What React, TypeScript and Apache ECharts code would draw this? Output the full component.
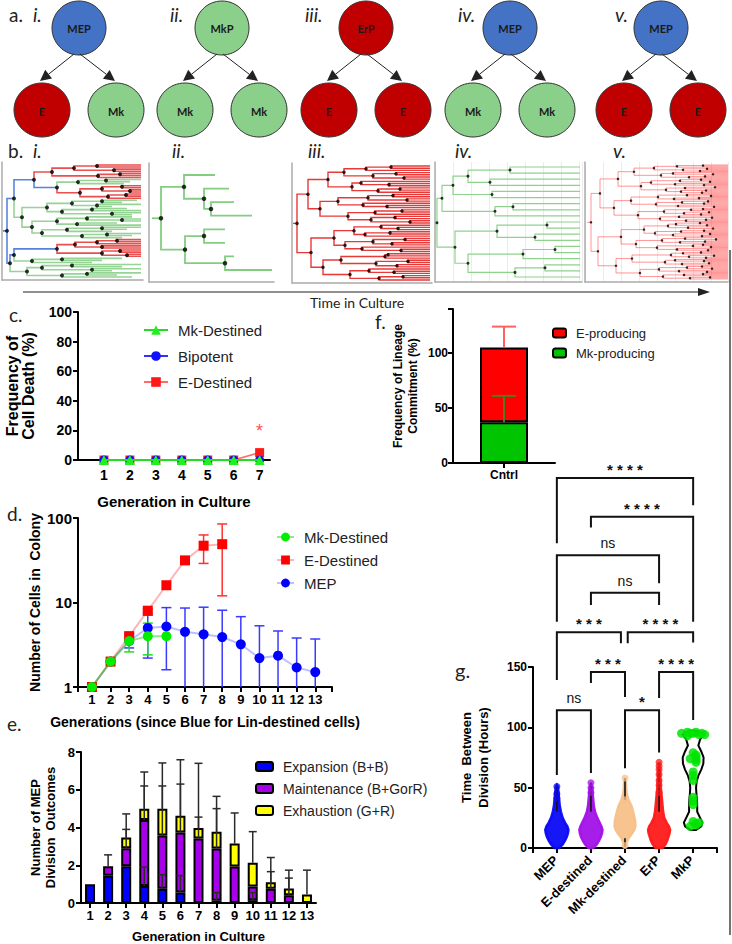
import React, { useEffect, useRef } from 'react';
import * as echarts from 'echarts';

// ---------------- a. division diagrams ----------------
const aNumerals = ['i.', 'ii.', 'iii.', 'iv.', 'v.'];
const aParents = ['MEP', 'MkP', 'ErP', 'MEP', 'MEP'];
const aChildren = [['E', 'Mk'], ['Mk', 'Mk'], ['E', 'E'], ['Mk', 'Mk'], ['E', 'E']];

// ---------------- b. lineage trees ----------------
// node = [divisionTime, childA, childB, colour?]; leaf = endTime or [endTime, colour]
const treeI: any = [5,
  [12,
    [32,
      [50, [72, [95, 139, 139], [112, 139, 139]], [96, [118, 139, 139], 139], 'r'],
      [55, [76, [104, 139, 128], 122, 'g'], [78, [100, [120, 139, 139], [128, 139, 139]], [106, [124, 139, 139], 139], 'r'], 'b']],
    [20,
      [45, [70, [100, 135, 120], [95, 139, 110]], [60, [90, 125, 139], [110, 139, 130]]],
      [30, [55, [85, 130, [120, 139, 139]], [75, 115, 139]], [40, [65, [100, 139, 125], 110], [80, [105, 139, 130], 120]]],
      'g']],
  [8,
    [12,
      [55, [73, [95, [115, 139, 139], 139], [100, 139, 139], 'r'], [100, [118, 139, 139], [125, 139, 139], 'r']],
      [30, [60, 120, 100], 90, 'g']],
    [25, [40, [70, 139, 120], [90, 139, 110]], [60, [85, 139, 115], 130], 'g']],
  'b'];
const treeII: any = [12,
  [35, 66, [55, 80, [62, 85, 103]]],
  [36, [55, 76, 76], [76, 85, 123]]];
const treeIIILevels: (number | null)[][] = [
  [5],
  [16, 19],
  [36, 28, 42, 31],
  [52, 60, 46, 56, 62, 53, 49, 58],
  [74, 81, 69, 86, 76, 71, 83, 79, 89, 73, 81, 70, 93, 84, 77, 87],
  [99, null, 104, 112, null, 97, 108, null, 101, 115, null, 95, 110, null, 103, 118, null, 106, 98, null, 113, 100, null, 109, 96, null, 116, 105, null, 102, 111, null],
];
const treeIV: any = [2,
  [7,
    [18, [33, [75, 145, 145], [55, 145, 145]], [57, 145, 145]],
    [60, [78, 145, 145], 145]],
  [20,
    [62, [112, 145, 145], [100, 145, 145]],
    [33, [88, [120, 145, 145], 145], [80, [110, 145, 145], 145]]]];
const treeVLevels: (number | null)[][] = [
  [6],
  [15, 13],
  [33, 29, 36, 31],
  [49, 56, 46, 53, 59, 51, 47, 55],
  [69, 76, 66, 81, 73, 71, 79, 75, 83, 70, 77, 72, 86, 80, 74, 78],
  [92, 98, 88, 104, 95, 90, 100, 96, 102, 89, 97, 93, 106, 99, 94, 101, 91, 103, 96, 88, 100, 95, 108, 92, 98, 104, 90, 97, 102, 94, 99, 105],
  [118, null, 122, 115, null, 128, 120, null, 116, 125, null, 119, 130, null, 121, 117, null, 126, 114, null, 123, 119, null, 129, 118, null, 124, 116, null, 127, 121, null,
    115, 122, null, 128, 119, null, 125, 117, null, 131, 120, null, 118, 126, null, 123, 116, null, 129, 121, null, 119, 124, null, 117, 127, null, 122, 118, null, 125],
];

// ---------------- c. cell death ----------------
const cGenerations = [1, 2, 3, 4, 5, 6, 7];
const cMkDestined = [0, 0, 0, 0, 0, 0, 0];
const cBipotent = [0, 0, 0, 0, 0, 0, 0];
const cEDestined = [0, 0, 0, 0, 0, 0, 5];
const cStarPosition = [7, 22];

// ---------------- f. lineage commitment ----------------
const fCategories = ['Cntrl'];
const fMkProducing = [37];
const fEProducing = [68];
const fMkErrTop = [61];
const fEErrTop = [124];

// ---------------- d. cells in colony ----------------
const dGenerations = [1, 2, 3, 4, 5, 6, 7, 8, 9, 10, 11, 12, 13];
const dMk = [1, 2, 3.5, 4, 4];
const dMkLow = [null, null, 2.6, 2.4, null];
const dMkHigh = [null, null, 3.9, 5.7, null];
const dE = [1, 2, 4, 8, 16, 31.5, 47, 49];
const dELow = [null, null, 3.7, 7.6, null, null, 29, 12];
const dEHigh = [null, null, 4.3, 8.4, null, null, 63, 85];
const dMEP = [1, 2, 3.5, 5, 5.2, 4.5, 4.2, 3.9, 3.2, 2.2, 2.35, 1.7, 1.5];
const dMEPLow = [null, null, 2.9, 2.2, 1.6, 0.5, 0.5, 0.5, 0.5, 0.5, 0.5, 0.5, 0.5];
const dMEPHigh = [null, null, 4.2, 7.1, 8.7, 8.6, 8.8, 8.1, 6.8, 5.3, 4.6, 3.8, 3.7];

// ---------------- e. MEP division outcomes ----------------
const eGenerations = ['1', '2', '3', '4', '5', '6', '7', '8', '9', '10', '11', '12', '13'];
const eExpansion = [1.0, 1.45, 1.95, 0.9, 0.75, 0.55, 0, 0.12, 0, 0.15, 0, 0, 0];
const eMaintenance = [0, 0.5, 0.95, 3.5, 2.82, 3.19, 3.42, 2.77, 1.93, 0.73, 0.75, 0.41, 0];
const eExhaustion = [0, 0, 0.57, 0.6, 1.43, 0.88, 0.55, 0.88, 1.22, 1.25, 0.35, 0.36, 0.45];
const eExpansionErr = [null, null, null, 1.9, 1.5, 1.45, null, 0.55, null, 0.55, null, null, null];
const eMaintenanceErr = [null, 2.55, 3.9, 6.2, 6.2, 6.3, 4.55, 5.0, null, null, 1.66, 1.32, null];
const eExhaustionErr = [null, null, 4.72, 6.94, 7.42, 7.59, 7.4, 5.65, 4.77, 3.78, 2.41, 1.74, 1.74];

// ---------------- g. time between divisions ----------------
const gGroups = ['MEP', 'E-destined', 'Mk-destined', 'ErP', 'MkP'];
const gLevels = [
  [0, 3, 6, 9, 12, 15, 18, 21, 25, 30, 35, 40, 45, 50, 52],
  [0, 3, 6, 9, 12, 15, 18, 21, 25, 30, 35, 40, 45, 50, 54],
  [1, 4, 8, 12, 15, 18, 22, 26, 30, 35, 40, 45, 50, 55, 58],
  [0, 3, 6, 9, 12, 15, 18, 21, 25, 30, 35, 40, 45, 50, 55, 60, 65, 71],
  [15, 18, 21, 25, 30, 35, 40, 45, 50, 55, 60, 65, 70, 75, 80, 85, 90, 94, 97],
];
const gDensity = [
  [0.2, 0.5, 0.7, 0.85, 0.95, 1, 0.9, 0.7, 0.5, 0.35, 0.25, 0.2, 0.15, 0.1, 0],
  [0.2, 0.5, 0.7, 0.85, 0.95, 1, 0.9, 0.75, 0.55, 0.35, 0.25, 0.2, 0.15, 0.1, 0],
  [0.05, 0.1, 0.3, 0.6, 0.8, 0.9, 0.88, 0.8, 0.7, 0.55, 0.3, 0.15, 0.1, 0.08, 0],
  [0.3, 0.55, 0.7, 0.8, 0.9, 0.95, 0.85, 0.65, 0.45, 0.35, 0.3, 0.25, 0.2, 0.15, 0.12, 0.1, 0.08, 0],
  [0.25, 0.7, 0.8, 0.6, 0.35, 0.35, 0.33, 0.28, 0.25, 0.3, 0.45, 0.7, 0.88, 0.9, 0.7, 0.45, 0.6, 0.9, 0.4],
];
const gTailPoints = [[51, 45, 41], [54, 50, 46], [58, 2, 40], [71, 68, 65, 61, 56, 52, 46], []];
const gMkPTimes = [95, 96, 95, 94, 96, 95, 93, 94, 95, 79, 77, 75, 73, 71, 74, 63, 60, 56, 42, 39, 36, 22, 20, 19, 18, 21];
const gBracketPairs = [[1, 5], [2, 5], [1, 4], [2, 4], [1, 3], [3, 5], [2, 3], [4, 5], [1, 2], [3, 4]];
const gBracketY = [306, 274, 242, 211, 178.5, 178.5, 145.5, 145.5, 114, 114];
const gBracketLegs = [[252, 283.5], [265, 187], [187, 219], [201, 201], [139, 169.4], [169.4, 170], [136.4, 124.8], [124, 105.8], [60.3, 62], [66, 79]];
const gBracketLabels = ['****', '****', 'ns', 'ns', '***', '****', '***', '****', 'ns', '*'];

// ---------------- styles ----------------
const AX = "'Liberation Sans', Arial, Helvetica, sans-serif";
const LB = "Lato, 'Open Sans', sans-serif";
const cellColors: Record<string, string> = { MEP: '#4472C4', MkP: '#8AD08A', ErP: '#C00000', E: '#C00000', Mk: '#8AD08A' };
const treeColors: Record<string, string> = { b: '#3A6ED5', r: '#E53030', g: '#82CD82', p: 'rgba(255,45,45,0.5)', R: '#E52222', G: '#8ED28E' };
const gColors = ['#0A0AF5', '#A312E8', '#F7C089', '#FF1A1A', '#00E400'];

function fromLevels(levels: (number | null)[][], end: number): any {
  const build = (k: number, i: number): any => {
    const t = levels[k] ? levels[k][i] : null;
    return t == null ? end : [t, build(k + 1, 2 * i), build(k + 1, 2 * i + 1)];
  };
  return build(0, 0);
}

function layoutTree(root: any, start: number, baseColor: string) {
  const segs: any[] = [];
  const dots: number[][] = [];
  let leaf = 0;
  const isLeaf = (n: any) => typeof n === 'number' || n.length === 2;
  const tOf = (n: any) => (typeof n === 'number' ? n : n[0]);
  const colorOf = (n: any, inh: string) => (typeof n === 'number' ? inh : n.length === 2 ? n[1] : n[3] || inh);
  const walk = (n: any, color: string): number => {
    if (isLeaf(n)) return leaf++;
    const ca = colorOf(n[1], color);
    const cb = colorOf(n[2], color);
    const ya = walk(n[1], ca);
    const yb = walk(n[2], cb);
    const y = (ya + yb) / 2;
    segs.push({ coords: [[n[0], y], [n[0], ya], [tOf(n[1]), ya]], color: ca });
    segs.push({ coords: [[n[0], y], [n[0], yb], [tOf(n[2]), yb]], color: cb });
    dots.push([n[0], y]);
    return y;
  };
  const rc = colorOf(root, baseColor);
  const yr = walk(root, rc);
  segs.push({ coords: [[start, yr], [tOf(root), yr]], color: rc });
  return { segs, dots, n: leaf };
}

function txt(text: string, x: number, y: number, font: string, fill = '#222', align = 'left', valign = 'middle') {
  return { type: 'text', silent: true, style: { text, x, y, font, fill, textAlign: align, align, textVerticalAlign: valign, verticalAlign: valign } };
}

function arrow(sx: number, sy: number, tx: number, ty: number, len: number, half: number, color: string, lw: number) {
  const dx = tx - sx, dy = ty - sy;
  const d = Math.sqrt(dx * dx + dy * dy);
  const ux = dx / d, uy = dy / d;
  const bx = tx - ux * len, by = ty - uy * len;
  return [
    { type: 'line', silent: true, shape: { x1: sx, y1: sy, x2: bx, y2: by }, style: { stroke: color, lineWidth: lw } },
    { type: 'polygon', silent: true, shape: { points: [[tx, ty], [bx - uy * half, by + ux * half], [bx + uy * half, by - ux * half]] }, style: { fill: color } },
  ];
}

function errRender(color: string, lw: number, cap: number, bottomCap: boolean) {
  return (params: any, api: any) => {
    const x = api.value(0);
    const pLo = api.coord([x, api.value(1)]);
    const pHi = api.coord([x, api.value(2)]);
    const st = { stroke: color, lineWidth: lw };
    const children: any[] = [
      { type: 'line', shape: { x1: pLo[0], y1: pLo[1], x2: pHi[0], y2: pHi[1] }, style: st },
      { type: 'line', shape: { x1: pHi[0] - cap, y1: pHi[1], x2: pHi[0] + cap, y2: pHi[1] }, style: st },
    ];
    if (bottomCap) children.push({ type: 'line', shape: { x1: pLo[0] - cap, y1: pLo[1], x2: pLo[0] + cap, y2: pLo[1] }, style: st });
    return { type: 'group', children };
  };
}

const blackLine = { show: true, onZero: false, lineStyle: { color: '#000', width: 2 } };
const tickOut = { show: true, length: 5, lineStyle: { color: '#000', width: 2 } };
const boldLabel = (size: number) => ({ fontFamily: AX, fontWeight: 'bold', fontSize: size, color: '#000' });

function buildOption() {
  const grid: any[] = [];
  const xAxis: any[] = [];
  const yAxis: any[] = [];
  const series: any[] = [];
  const graphic: any[] = [];

  // ---------- a ----------
  const aCenters = [79, 222, 366, 510, 661];
  const aNumX = [33, 170, 305, 458, 615];
  graphic.push(txt('a.', 9, 14, `19px ${LB}`));
  aParents.forEach((p, k) => {
    const cx = aCenters[k];
    graphic.push(txt(aNumerals[k], aNumX[k], 14, `italic 19px ${LB}`));
    graphic.push({ type: 'ellipse', silent: true, shape: { cx, cy: 28, rx: 27, ry: 27 }, style: { fill: cellColors[p], stroke: '#333', lineWidth: 1 } });
    graphic.push(txt(p, cx, 28, `bold 11px ${LB}`, '#1a1a1a', 'center'));
    aChildren[k].forEach((c, j) => {
      const ccx = cx + (j ? 37 : -37);
      graphic.push({ type: 'ellipse', silent: true, shape: { cx: ccx, cy: 110, rx: 28, ry: 27 }, style: { fill: cellColors[c], stroke: '#333', lineWidth: 1 } });
      graphic.push(txt(c, ccx, 111, `bold 11px ${LB}`, '#1a1a1a', 'center'));
      graphic.push(...arrow(cx + (j ? 1 : -5), 54, ccx + (j ? -1 : -2), 81, 11, 5.5, '#222', 1));
    });
  });

  // ---------- b ----------
  graphic.push(txt('b.', 8, 150, `19px ${LB}`));
  const bNumX = [33, 172, 308, 455, 613];
  aNumerals.forEach((n, k) => graphic.push(txt(n, bNumX[k], 150, `italic 19px ${LB}`)));
  const treePanels = [
    { tree: treeI, left: 2, top: 162, width: 141, height: 118, start: 1, base: 'b', line: 1.6, op: 0.85, dot: 4, padPx: 3, vgrid: false },
    { tree: treeII, left: 149, top: 163, width: 125, height: 119, start: 3, base: 'g', line: 1.8, op: 1, dot: 4.5, padPx: 12, vgrid: false },
    { tree: fromLevels(treeIIILevels, 138), left: 292, top: 163, width: 140, height: 120, start: 1, base: 'R', line: 1.4, op: 0.9, dot: 3.5, padPx: 3, vgrid: false },
    { tree: treeIV, left: 435, top: 162, width: 147, height: 120, start: 0, base: 'G', line: 1.2, op: 1, dot: 3, padPx: 5, vgrid: true },
    { tree: fromLevels(treeVLevels, 143), left: 585, top: 162, width: 143, height: 120, start: 2, base: 'p', line: 1, op: 1, dot: 2.5, padPx: 3, vgrid: true },
  ];
  treePanels.forEach((p, k) => {
    const L = layoutTree(p.tree, p.start, p.base);
    const u = (L.n - 1) / (p.height - 2 * p.padPx);
    grid.push({ left: p.left, top: p.top, width: p.width, height: p.height });
    xAxis.push({
      gridIndex: k, type: 'value', min: 0, max: p.width, interval: p.vgrid ? 18 : undefined,
      axisLine: { show: true, onZero: false, lineStyle: { color: '#ababab', width: 1.5 } },
      axisTick: { show: false }, axisLabel: { show: false },
      splitLine: { show: p.vgrid, lineStyle: { color: '#ebebeb', width: 1 } },
    });
    yAxis.push({
      gridIndex: k, type: 'value', inverse: true, min: -p.padPx * u, max: L.n - 1 + p.padPx * u,
      axisLine: { show: true, onZero: false, lineStyle: { color: '#ababab', width: 1.5 } },
      axisTick: { show: false }, axisLabel: { show: false }, splitLine: { show: false },
    });
    series.push({
      type: 'lines', coordinateSystem: 'cartesian2d', xAxisIndex: k, yAxisIndex: k, polyline: true, silent: true, z: 2,
      lineStyle: { width: p.line, opacity: p.op },
      data: L.segs.map((s: any) => ({ coords: s.coords, lineStyle: { color: treeColors[s.color] } })),
    });
    series.push({
      type: 'scatter', xAxisIndex: k, yAxisIndex: k, silent: true, z: 3, symbolSize: p.dot,
      itemStyle: { color: '#000' }, data: L.dots,
    });
  });
  // time arrow
  graphic.push(...arrow(23, 292, 710, 292, 12, 4, '#222', 1.2));
  graphic.push(txt('Time in Culture', 357, 302, `14px ${LB}`, '#222', 'center'));
  graphic.push({ type: 'line', silent: true, shape: { x1: 730, y1: 250, x2: 730, y2: 935 }, style: { stroke: '#444', lineWidth: 1.5 } });

  // ---------- panel letters ----------
  graphic.push(txt('c.', 9, 314, `19px ${LB}`));
  graphic.push(txt('f.', 375, 321, `19px ${LB}`));
  graphic.push(txt('d.', 7, 513, `19px ${LB}`));
  graphic.push(txt('e.', 7, 723, `19px ${LB}`));
  graphic.push(txt('g.', 455, 670, `20px ${LB}`));

  // ---------- c (grid 5) ----------
  grid.push({ left: 78, top: 312, width: 192, height: 148 });
  xAxis.push({
    gridIndex: 5, type: 'value', min: 0, max: 7.4, interval: 1,
    axisLine: blackLine, axisTick: { show: false }, splitLine: { show: false },
    axisLabel: { ...boldLabel(14), margin: 8, formatter: (v: number) => (v >= 1 && v <= 7 && Number.isInteger(v) ? String(v) : '') },
    name: 'Generation in Culture', nameLocation: 'middle', nameGap: 34, nameTextStyle: boldLabel(15),
  });
  yAxis.push({
    gridIndex: 5, type: 'value', min: 0, max: 100, interval: 20,
    axisLine: blackLine, axisTick: tickOut, splitLine: { show: false },
    axisLabel: { ...boldLabel(14), margin: 6 },
    name: 'Frequency of\nCell Death (%)', nameLocation: 'middle', nameRotate: 90, nameGap: 42,
    nameTextStyle: { ...boldLabel(16), lineHeight: 16 },
  });
  series.push(
    { name: 'E-Destined', type: 'line', xAxisIndex: 5, yAxisIndex: 5, z: 3, symbol: 'rect', symbolSize: 9,
      data: cGenerations.map((g, i) => [g, cEDestined[i]]), itemStyle: { color: '#FF1A1A' }, lineStyle: { color: '#FF6A6A', width: 1.5 } },
    { name: 'Bipotent', type: 'line', xAxisIndex: 5, yAxisIndex: 5, z: 4, symbol: 'circle', symbolSize: 9,
      data: cGenerations.map((g, i) => [g, cBipotent[i]]), itemStyle: { color: '#1010FF' }, lineStyle: { color: '#3030FF', width: 1.5 } },
    { name: 'Mk-Destined', type: 'line', xAxisIndex: 5, yAxisIndex: 5, z: 5, symbol: 'triangle', symbolSize: 10,
      data: cGenerations.map((g, i) => [g, cMkDestined[i]]), itemStyle: { color: '#22EE22' }, lineStyle: { color: '#22DD22', width: 2 } },
    { type: 'scatter', xAxisIndex: 5, yAxisIndex: 5, z: 6, symbolSize: 2, silent: true, itemStyle: { color: 'rgba(255,255,255,0)' },
      data: [cStarPosition], label: { show: true, position: 'inside', formatter: '*', color: '#FF2020', fontSize: 18, fontFamily: AX, offset: [0, 4] } },
  );

  // ---------- f (grid 6) ----------
  grid.push({ left: 453, top: 309, width: 102, height: 154 });
  xAxis.push({
    gridIndex: 6, type: 'category', data: fCategories,
    axisLine: blackLine, axisTick: { ...tickOut, alignWithLabel: true }, axisLabel: { ...boldLabel(12), margin: 6 },
  });
  yAxis.push({
    gridIndex: 6, type: 'value', min: 0, max: 140, interval: 50,
    axisLine: blackLine, axisTick: tickOut, splitLine: { show: false },
    axisLabel: { ...boldLabel(12), margin: 5, formatter: (v: number) => (v % 50 === 0 ? String(v) : '') },
    name: 'Frequency of Lineage\nCommitment (%)', nameLocation: 'middle', nameRotate: 90, nameGap: 33,
    nameTextStyle: { ...boldLabel(12), lineHeight: 15 },
  });
  series.push(
    { name: 'Mk-producing', type: 'bar', stack: 'f', xAxisIndex: 6, yAxisIndex: 6, barWidth: 48, data: fMkProducing,
      itemStyle: { color: '#00C400', borderColor: '#000', borderWidth: 2 } },
    { name: 'E-producing', type: 'bar', stack: 'f', xAxisIndex: 6, yAxisIndex: 6, barWidth: 48, data: fEProducing,
      itemStyle: { color: '#FF0000', borderColor: '#000', borderWidth: 2 } },
    { type: 'custom', xAxisIndex: 6, yAxisIndex: 6, z: 5, silent: true, renderItem: errRender('#FF6060', 2, 12, false),
      data: [[0, fMkProducing[0] + fEProducing[0], fEErrTop[0]]] },
    { type: 'custom', xAxisIndex: 6, yAxisIndex: 6, z: 5, silent: true, renderItem: errRender('#4F7A22', 2, 12, false),
      data: [[0, fMkProducing[0], fMkErrTop[0]]] },
  );

  // ---------- d (grid 7) ----------
  grid.push({ left: 78, top: 518, width: 254, height: 169 });
  xAxis.push({
    gridIndex: 7, type: 'value', min: 0.25, max: 13.9, minInterval: 1, maxInterval: 1, splitNumber: 13,
    axisLine: blackLine, axisTick: tickOut, splitLine: { show: false },
    axisLabel: { ...boldLabel(13), margin: 6, formatter: (v: number) => (Number.isInteger(v) && v >= 1 ? String(v) : '') },
    name: 'Generations (since Blue for Lin-destined cells)', nameLocation: 'middle', nameGap: 28, nameTextStyle: boldLabel(14),
  });
  yAxis.push({
    gridIndex: 7, type: 'log', logBase: 10, min: 1, max: 100,
    axisLine: blackLine, axisTick: tickOut, splitLine: { show: false }, minorTick: { show: false },
    axisLabel: { ...boldLabel(15), margin: 6 },
    name: 'Number of Cells in  Colony', nameLocation: 'middle', nameRotate: 90, nameGap: 36, nameTextStyle: boldLabel(14),
  });
  const errData = (lo: any[], hi: any[]) => lo.map((l, i) => (l == null ? null : [dGenerations[i], l, hi[i]])).filter((d) => d);
  series.push(
    { type: 'custom', xAxisIndex: 7, yAxisIndex: 7, z: 2, clip: true, silent: true, renderItem: errRender('#3A3AFF', 1.5, 5, true), data: errData(dMEPLow, dMEPHigh) },
    { type: 'custom', xAxisIndex: 7, yAxisIndex: 7, z: 2, clip: true, silent: true, renderItem: errRender('#FF3030', 1.5, 5, true), data: errData(dELow, dEHigh) },
    { type: 'custom', xAxisIndex: 7, yAxisIndex: 7, z: 2, clip: true, silent: true, renderItem: errRender('#22DD22', 1.5, 5, true), data: errData(dMkLow, dMkHigh) },
    { name: 'MEP', type: 'line', xAxisIndex: 7, yAxisIndex: 7, z: 3, symbol: 'circle', symbolSize: 10,
      data: dMEP.map((v, i) => [dGenerations[i], v]), itemStyle: { color: '#0000FF' }, lineStyle: { color: 'rgba(70,70,255,0.35)', width: 2 } },
    { name: 'E-Destined ', type: 'line', xAxisIndex: 7, yAxisIndex: 7, z: 4, symbol: 'rect', symbolSize: 10,
      data: dE.map((v, i) => [dGenerations[i], v]), itemStyle: { color: '#FF0000' }, lineStyle: { color: 'rgba(255,90,90,0.45)', width: 2 } },
    { name: 'Mk-Destined ', type: 'line', xAxisIndex: 7, yAxisIndex: 7, z: 5, symbol: 'circle', symbolSize: 10,
      data: dMk.map((v, i) => [dGenerations[i], v]), itemStyle: { color: '#00EE00' }, lineStyle: { color: 'rgba(0,210,0,0.45)', width: 2 } },
  );

  // ---------- e (grid 8) ----------
  grid.push({ left: 81, top: 752, width: 235, height: 156 });
  xAxis.push({
    gridIndex: 8, type: 'category', data: eGenerations,
    axisLine: blackLine, axisTick: { ...tickOut, alignWithLabel: true, interval: 0 }, axisLabel: { ...boldLabel(13), margin: 6, interval: 0 },
    name: 'Generation in Culture', nameLocation: 'middle', nameGap: 27, nameTextStyle: boldLabel(13),
  });
  yAxis.push({
    gridIndex: 8, type: 'value', min: 0, max: 8, interval: 2,
    axisLine: blackLine, axisTick: tickOut, splitLine: { show: false }, axisLabel: { ...boldLabel(13), margin: 6 },
    name: 'Number of MEP\nDivision  Outcomes', nameLocation: 'middle', nameRotate: 90, nameGap: 23,
    nameTextStyle: { ...boldLabel(13), lineHeight: 15 },
  });
  const eSeries = [
    { name: 'Expansion (B+B)', values: eExpansion, color: '#0000FF' },
    { name: 'Maintenance (B+GorR)', values: eMaintenance, color: '#A600E8' },
    { name: 'Exhaustion (G+R)', values: eExhaustion, color: '#FFFF00' },
  ];
  eSeries.forEach((s) => series.push({
    name: s.name, type: 'bar', stack: 'e', xAxisIndex: 8, yAxisIndex: 8, barWidth: 10,
    data: s.values.map((v) => (v ? v : null)), itemStyle: { color: s.color, borderColor: '#000', borderWidth: 2 },
  }));
  const eErr: any[] = [];
  eGenerations.forEach((_, i) => {
    const t1 = eExpansion[i];
    const t2 = t1 + eMaintenance[i];
    const t3 = t2 + eExhaustion[i];
    if (eExpansionErr[i] != null) eErr.push([i, t1, eExpansionErr[i]]);
    if (eMaintenanceErr[i] != null) eErr.push([i, t2, eMaintenanceErr[i]]);
    if (eExhaustionErr[i] != null) eErr.push([i, t3, eExhaustionErr[i]]);
  });
  series.push({ type: 'custom', xAxisIndex: 8, yAxisIndex: 8, z: 5, silent: true, renderItem: errRender('#2a2a2a', 1.5, 4, false), data: eErr });

  // ---------- g violin (grid 9), brackets (grid 10), group labels (grid 11) ----------
  grid.push({ left: 533, top: 667, width: 184, height: 181 });
  grid.push({ left: 533, top: 461, width: 184, height: 387 });
  grid.push({ left: 539, top: 667, width: 170, height: 181 });
  xAxis.push({
    gridIndex: 9, type: 'value', min: 0.3, max: 5.7, minInterval: 1, maxInterval: 1, splitNumber: 5,
    axisLine: blackLine, axisTick: tickOut, splitLine: { show: false }, axisLabel: { show: false },
  });
  yAxis.push({
    gridIndex: 9, type: 'value', min: 0, max: 150, interval: 50,
    axisLine: blackLine, axisTick: tickOut, splitLine: { show: false }, axisLabel: { ...boldLabel(12), margin: 6 },
    name: 'Time  Between\nDivision (Hours)', nameLocation: 'middle', nameRotate: 90, nameGap: 41,
    nameTextStyle: { ...boldLabel(13), lineHeight: 17 },
  });
  xAxis.push({ gridIndex: 10, type: 'value', min: 0.3, max: 5.7, show: false });
  yAxis.push({ gridIndex: 10, type: 'value', min: 0, max: 320, show: false });
  xAxis.push({
    gridIndex: 11, type: 'category', data: gGroups, position: 'bottom',
    axisLine: { show: false }, axisTick: { show: false }, splitLine: { show: false },
    axisLabel: { ...boldLabel(13), interval: 0, rotate: 45, margin: 10 },
  });
  yAxis.push({ gridIndex: 11, type: 'value', min: 0, max: 1, show: false });
  const maxHalf = 0.34;
  series.push({
    type: 'custom', xAxisIndex: 9, yAxisIndex: 9, z: 2, silent: true, clip: false,
    data: gGroups.map((_, i) => [i + 1, 0]),
    renderItem: (params: any, api: any) => {
      const gi = params.dataIndex;
      const lv = gLevels[gi];
      const dn = gDensity[gi];
      const xc = gi + 1;
      const right = lv.map((l, j) => api.coord([xc + dn[j] * maxHalf, l]));
      const left = lv.map((l, j) => api.coord([xc - dn[j] * maxHalf, l])).reverse();
      const pts = right.concat(left);
      const isMkP = gi === 4;
      const children: any[] = [{
        type: 'polygon', shape: { points: pts },
        style: isMkP ? { fill: 'rgba(255,255,255,0)', stroke: '#000', lineWidth: 2 } : { fill: gColors[gi], stroke: gColors[gi], lineWidth: 2.5, opacity: 0.95 },
      }];
      if (!isMkP) {
        let peak = 0;
        dn.forEach((d, j) => { if (d > dn[peak]) peak = j; });
        let up = peak;
        while (up < dn.length - 1 && dn[up] >= 0.45) up++;
        const a = api.coord([xc, lv[up]]);
        const b = api.coord([xc, lv[lv.length - 1]]);
        children.push({ type: 'line', shape: { x1: a[0], y1: a[1], x2: b[0], y2: b[1] }, style: { stroke: '#111', lineWidth: 1.6 } });
        let dw = peak;
        while (dw > 0 && dn[dw] >= 0.45) dw--;
        if (dw > 0) {
          const c = api.coord([xc, lv[0]]);
          const d = api.coord([xc, lv[dw]]);
          children.push({ type: 'line', shape: { x1: c[0], y1: c[1], x2: d[0], y2: d[1] }, style: { stroke: '#111', lineWidth: 1.6 } });
        }
      }
      return { type: 'group', children };
    },
  });
  const tailData: any[] = [];
  gTailPoints.forEach((pts, gi) => pts.forEach((v) => tailData.push({ value: [gi + 1, v], itemStyle: { color: gColors[gi] } })));
  series.push({ type: 'scatter', xAxisIndex: 9, yAxisIndex: 9, z: 3, silent: true, symbolSize: 7, itemStyle: { opacity: 0.75 }, data: tailData });
  series.push({
    type: 'scatter', xAxisIndex: 9, yAxisIndex: 9, z: 4, silent: true, symbolSize: 9, itemStyle: { color: gColors[4], opacity: 0.85 },
    data: gMkPTimes.map((v, i) => {
      const k = gMkPTimes.slice(0, i).filter((w) => Math.abs(w - v) < 3).length;
      const off = k === 0 ? 0 : (k % 2 ? 1 : -1) * Math.ceil(k / 2) * 0.085;
      return [5 + off, v];
    }),
  });
  series.push({
    type: 'custom', xAxisIndex: 10, yAxisIndex: 10, z: 6, silent: true, clip: false,
    data: gBracketPairs.map((_, i) => [i + 1, 0]),
    renderItem: (params: any, api: any) => {
      const i = params.dataIndex;
      let [a, b] = gBracketPairs[i];
      const y = gBracketY[i];
      gBracketPairs.forEach((q, j) => {
        if (j !== i && gBracketY[j] === y) {
          if (q[0] === b) b -= 0.12;
          if (q[1] === a) a += 0.08;
        }
      });
      const p1 = api.coord([a, gBracketLegs[i][0]]);
      const p2 = api.coord([a, y]);
      const p3 = api.coord([b, y]);
      const p4 = api.coord([b, gBracketLegs[i][1]]);
      const lab = gBracketLabels[i];
      const isStar = lab.indexOf('*') >= 0;
      return {
        type: 'group', children: [
          { type: 'polyline', shape: { points: [p1, p2, p3, p4] }, style: { stroke: '#111', lineWidth: 2, fill: 'none' } },
          { type: 'text', style: {
            text: isStar ? lab.split('').join(' ') : lab, x: (p2[0] + p3[0]) / 2, y: p2[1] - (isStar ? 1 : 5),
            font: isStar ? `bold 15px ${AX}` : `14px ${AX}`, fill: '#111',
            textAlign: 'center', align: 'center', textVerticalAlign: 'bottom', verticalAlign: 'bottom' } },
        ],
      };
    },
  });

  const legendText = (size: number) => ({ fontFamily: AX, fontSize: size, color: '#222', lineHeight: size + 1, padding: [0, 0, 0, 5] });
  const legend = [
    { data: ['Mk-Destined', 'Bipotent', 'E-Destined'], orient: 'vertical', left: 138, top: 317, itemWidth: 24, itemHeight: 12, itemGap: 10, textStyle: legendText(15), selectedMode: false },
    { data: ['E-producing', 'Mk-producing'], orient: 'vertical', left: 547, top: 321, itemWidth: 13, itemHeight: 9, itemGap: 6, textStyle: legendText(13), selectedMode: false,
      itemStyle: { borderColor: '#000', borderWidth: 2 } },
    { data: ['Mk-Destined ', 'E-Destined ', 'MEP'], orient: 'vertical', left: 271, top: 524, itemWidth: 17, itemHeight: 11, itemGap: 7, textStyle: legendText(15), selectedMode: false },
    { data: ['Expansion (B+B)', 'Maintenance (B+GorR)', 'Exhaustion (G+R)'], orient: 'vertical', left: 250, top: 754, itemWidth: 17, itemHeight: 9, itemGap: 7, textStyle: legendText(14), selectedMode: false,
      itemStyle: { borderColor: '#000', borderWidth: 2 } },
  ];

  return { animation: false, backgroundColor: '#fff', textStyle: { fontFamily: AX }, grid, xAxis, yAxis, series, legend, graphic };
}

export default function App() {
  const ref = useRef<HTMLDivElement>(null);
  useEffect(() => {
    document.body.style.margin = '0';
    const chart = echarts.init(ref.current as HTMLDivElement, null, { renderer: 'svg' });
    chart.setOption(buildOption() as any);
    return () => chart.dispose();
  }, []);
  return <div ref={ref} style={{ width: 732, height: 944, position: 'absolute', left: 0, top: 0, background: '#fff' }} />;
}
